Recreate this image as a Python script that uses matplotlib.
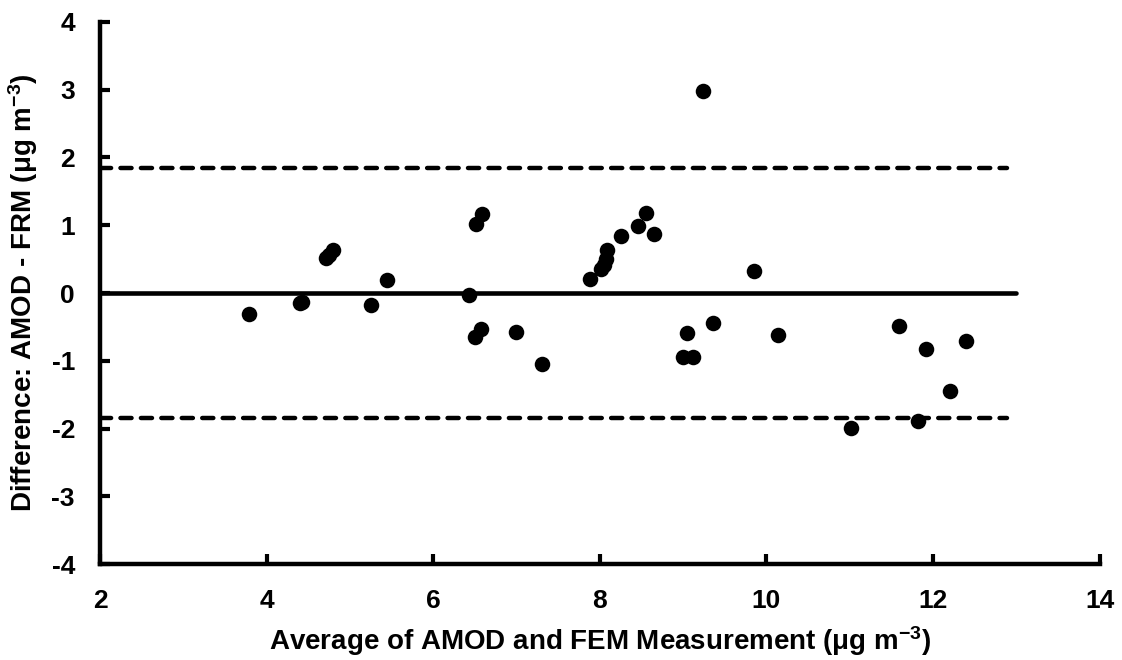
import matplotlib
matplotlib.use("Agg")
import matplotlib.pyplot as plt

plt.rcParams['font.family'] = ['Liberation Sans', 'DejaVu Sans']
plt.rcParams['font.weight'] = 'bold'
plt.rcParams['axes.unicode_minus'] = False
plt.rcParams['mathtext.fontset'] = 'custom'
plt.rcParams['mathtext.rm'] = 'Liberation Sans:bold'
plt.rcParams['mathtext.bf'] = 'Liberation Sans:bold'
plt.rcParams['mathtext.default'] = 'bf'

avg = [3.79, 4.40, 4.43, 4.71, 4.75, 4.80, 5.25, 5.44, 6.43, 6.51, 6.59,
       6.50, 6.57, 6.99, 7.31, 7.88, 8.02, 8.05, 8.07, 8.09, 8.26, 8.46,
       8.56, 8.65, 9.24, 9.00, 9.12, 9.05, 9.36, 9.85, 10.14, 11.02, 11.59,
       11.82, 11.92, 12.20, 12.40]
diff = [-0.315, -0.14, -0.13, 0.51, 0.56, 0.635, -0.18, 0.197, -0.035, 1.02, 1.16,
        -0.645, -0.527, -0.57, -1.05, 0.21, 0.36, 0.42, 0.50, 0.63, 0.84, 0.99,
        1.185, 0.875, 2.98, -0.94, -0.94, -0.585, -0.44, 0.325, -0.625, -1.99, -0.487,
        -1.89, -0.82, -1.45, -0.71]
mean_line = 0.0
upper_loa = 1.845
lower_loa = -1.85
xticks = [2, 4, 6, 8, 10, 12, 14]
yticks = [-4, -3, -2, -1, 0, 1, 2, 3, 4]

fig = plt.figure(figsize=(11.22, 6.6), dpi=100)
ax = fig.add_axes([0.0891, 0.145, 0.891, 0.822])

ax.plot([2, 13], [mean_line, mean_line], color='black', lw=3.3, solid_capstyle='round', zorder=2)
for v in (upper_loa, lower_loa):
    ax.plot([2, 12.89], [v, v], color='black', lw=3.2, linestyle=(0, (2.5, 2.1)),
            dash_capstyle='round', zorder=2)
ax.scatter(avg, diff, s=125, color='black', zorder=3, linewidths=0)

ax.set_xlim(2, 14)
ax.set_ylim(-4, 4)
ax.set_xticks(xticks)
ax.set_yticks(yticks)
ax.set_xticklabels([str(t) for t in xticks])
ax.set_yticklabels([str(t) for t in yticks])
for s in ('top', 'right'):
    ax.spines[s].set_visible(False)
for s in ('left', 'bottom'):
    ax.spines[s].set_linewidth(3.2)
ax.tick_params(direction='in', length=7, width=3.0, labelsize=19, pad=18)
for lab in ax.get_xticklabels() + ax.get_yticklabels():
    lab.set_fontweight('bold')

ax.set_xlabel(r'Average of AMOD and FEM Measurement (μg m$^{-3}$)', fontsize=20,
              fontweight='bold', labelpad=8)
ax.set_ylabel(r'Difference: AMOD - FRM (μg m$^{-3}$)', fontsize=20,
              fontweight='bold', labelpad=8)

fig.savefig('out.png', dpi=100)
